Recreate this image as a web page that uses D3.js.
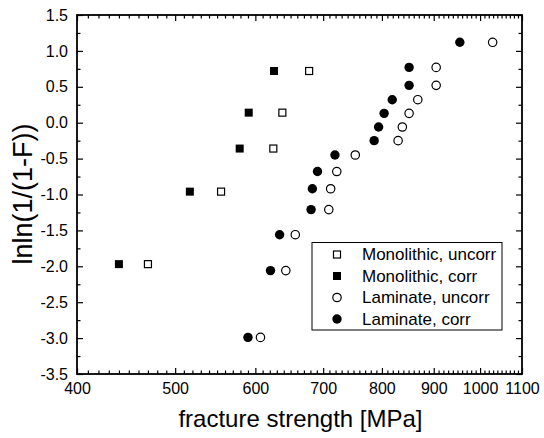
<!DOCTYPE html>
<html><head><meta charset="utf-8">
<script src="https://cdn.jsdelivr.net/npm/d3@7"></script>
<style>body{margin:0;background:#fff}svg{display:block}text{font-family:"Liberation Sans",Arial,sans-serif;fill:#000}</style>
</head><body>
<svg id="c" width="544" height="438"></svg>
<script>
const xTicks = [400,500,600,700,800,900,1000,1100];
const yTicks = [1.5,1.0,0.5,0.0,-0.5,-1.0,-1.5,-2.0,-2.5,-3.0,-3.5];

const monoUncorrX = [470,555,625,638,678];
const monoUncorrY = [-1.97,-0.96,-0.36,0.14,0.72];
const monoCorrX = [440,517,579,591,626];
const monoCorrY = [-1.97,-0.96,-0.36,0.14,0.72];

const lamUncorrX = [607,643,657,709,712,722,753,830,838,851,868,905,905,1029];
const lamUncorrY = [-2.99,-2.06,-1.56,-1.21,-0.92,-0.68,-0.45,-0.25,-0.06,0.13,0.32,0.52,0.77,1.12];
const lamCorrX = [590,621,634,681,683,691,719,786,794,804,819,851,851,955];
const lamCorrY = [-2.99,-2.06,-1.56,-1.21,-0.92,-0.68,-0.45,-0.25,-0.06,0.13,0.32,0.52,0.77,1.12];

const legendLabels = ["Monolithic, uncorr","Monolithic, corr","Laminate, uncorr","Laminate, corr"];

const L=77,R=522,T=15,B=374;
const svg=d3.select("#c");
const x=d3.scaleLog().domain([400,1100]).range([L,R]);
const y=d3.scaleLinear().domain([-3.5,1.5]).range([B,T]);

const minorX=d3.range(410,1100,10).filter(v=>v%100!==0);
const minorY=d3.range(-3.25,1.5,0.5);

const g=svg.append("g");
const bottom=g.append("g").attr("transform",`translate(0,${B})`)
  .call(d3.axisBottom(x).tickValues(xTicks).tickFormat(d=>d).tickSizeInner(-6).tickSizeOuter(0).tickPadding(9));
bottom.selectAll("text").attr("font-size",16);
g.append("g").attr("transform",`translate(0,${B})`)
  .call(d3.axisBottom(x).tickValues(minorX).tickFormat("").tickSizeInner(-3.5).tickSizeOuter(0));
g.append("g").attr("transform",`translate(0,${T})`)
  .call(d3.axisTop(x).tickValues(xTicks).tickFormat("").tickSizeInner(-6).tickSizeOuter(0));
g.append("g").attr("transform",`translate(0,${T})`)
  .call(d3.axisTop(x).tickValues(minorX).tickFormat("").tickSizeInner(-3.5).tickSizeOuter(0));
const left=g.append("g").attr("transform",`translate(${L},0)`)
  .call(d3.axisLeft(y).tickValues(yTicks).tickFormat(d=>d.toFixed(1)).tickSizeInner(-6).tickSizeOuter(0).tickPadding(9));
left.selectAll("text").attr("font-size",16);
g.append("g").attr("transform",`translate(${L},0)`)
  .call(d3.axisLeft(y).tickValues(minorY).tickFormat("").tickSizeInner(-3.5).tickSizeOuter(0));
g.append("g").attr("transform",`translate(${R},0)`)
  .call(d3.axisRight(y).tickValues(yTicks).tickFormat("").tickSizeInner(-6).tickSizeOuter(0));
g.append("g").attr("transform",`translate(${R},0)`)
  .call(d3.axisRight(y).tickValues(minorY).tickFormat("").tickSizeInner(-3.5).tickSizeOuter(0));
g.selectAll(".domain").remove();
g.selectAll(".tick line").attr("stroke","#000").attr("stroke-width",1.2);

svg.append("rect").attr("x",L).attr("y",T).attr("width",R-L).attr("height",B-T)
  .attr("fill","none").attr("stroke","#000").attr("stroke-width",1.8);

svg.append("text").attr("x",(L+R)/2+1).attr("y",426.5).attr("text-anchor","middle")
  .attr("font-size",24).text("fracture strength [MPa]");
svg.append("text").attr("transform",`translate(31.5,194) rotate(-90)`).attr("text-anchor","middle")
  .attr("font-size",27).text("lnln(1/(1-F))");

function squares(xs,ys,filled){
  svg.append("g").selectAll("rect").data(xs.map((v,i)=>[v,ys[i]])).join("rect")
    .attr("x",d=>x(d[0])-(filled?4:3.5)).attr("y",d=>y(d[1])-(filled?4:3.5))
    .attr("width",filled?8:7).attr("height",filled?8:7)
    .attr("fill",filled?"#000":"#fff").attr("stroke","#000").attr("stroke-width",filled?0:1.2);
}
function circles(xs,ys,filled){
  svg.append("g").selectAll("circle").data(xs.map((v,i)=>[v,ys[i]])).join("circle")
    .attr("cx",d=>x(d[0])).attr("cy",d=>y(d[1])).attr("r",filled?4.7:4.2)
    .attr("fill",filled?"#000":"#fff").attr("stroke","#000").attr("stroke-width",filled?0:1.2);
}
squares(monoUncorrX,monoUncorrY,false);
squares(monoCorrX,monoCorrY,true);
circles(lamUncorrX,lamUncorrY,false);
circles(lamCorrX,lamCorrY,true);

const lg=svg.append("g");
lg.append("rect").attr("x",312).attr("y",242.5).attr("width",190).attr("height",87.5)
  .attr("fill","#fff").attr("stroke","#000").attr("stroke-width",1);
const rowY=[254.5,276,297.5,319];
const sx=337;
lg.append("rect").attr("x",sx-3.5).attr("y",rowY[0]-3.5).attr("width",7).attr("height",7).attr("fill","#fff").attr("stroke","#000").attr("stroke-width",1.2);
lg.append("rect").attr("x",sx-4).attr("y",rowY[1]-4).attr("width",8).attr("height",8).attr("fill","#000");
lg.append("circle").attr("cx",sx).attr("cy",rowY[2]).attr("r",4.2).attr("fill","#fff").attr("stroke","#000").attr("stroke-width",1.2);
lg.append("circle").attr("cx",sx).attr("cy",rowY[3]).attr("r",4.7).attr("fill","#000");
legendLabels.forEach((t,i)=>{
  lg.append("text").attr("x",362).attr("y",rowY[i]).attr("dy","0.35em").attr("font-size",17).text(t);
});
</script>
</body></html>
